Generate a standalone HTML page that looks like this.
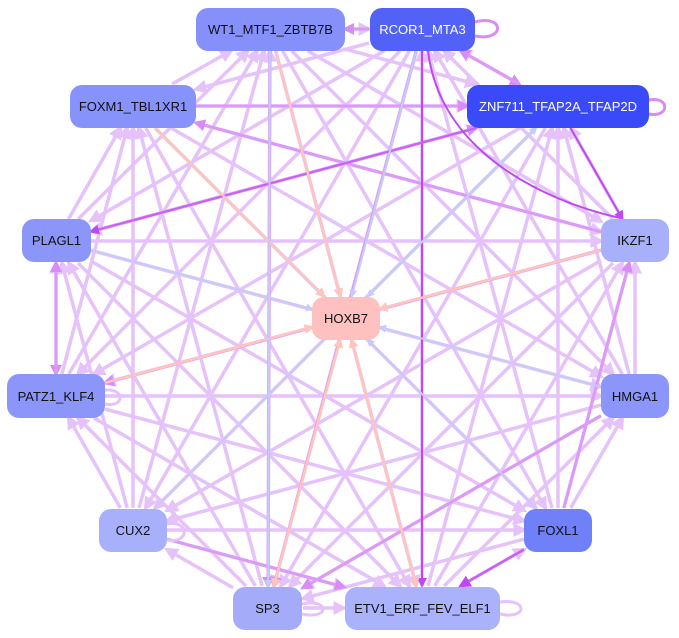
<!DOCTYPE html>
<html><head><meta charset="utf-8">
<style>
body{margin:0;background:#fff;width:679px;height:638px;overflow:hidden;position:relative;font-family:"Liberation Sans",sans-serif}
svg{position:absolute;left:0;top:0}
.n{position:absolute;border-radius:12px;display:flex;align-items:center;justify-content:center;font-size:13px;color:#111;box-sizing:border-box}
</style></head><body>
<svg id="s" width="679" height="638" viewBox="0 0 679 638">
<defs>
<marker id="m1" markerWidth="4" markerHeight="4" refX="3" refY="2" orient="auto" markerUnits="strokeWidth"><path d="M0,0L4,2L0,4z" fill="#e6c2fa"/></marker>
<marker id="m2" markerWidth="4" markerHeight="4" refX="3" refY="2" orient="auto" markerUnits="strokeWidth"><path d="M0,0L4,2L0,4z" fill="#d88cf6"/></marker>
<marker id="m3" markerWidth="5" markerHeight="5" refX="4" refY="2.5" orient="auto" markerUnits="strokeWidth"><path d="M0,0L5,2.5L0,5z" fill="#c048f2"/></marker>
<marker id="m4" markerWidth="4" markerHeight="4" refX="3" refY="2" orient="auto" markerUnits="strokeWidth"><path d="M0,0L4,2L0,4z" fill="#ffc4bc"/></marker>
<marker id="m5" markerWidth="4" markerHeight="4" refX="3" refY="2" orient="auto" markerUnits="strokeWidth"><path d="M0,0L4,2L0,4z" fill="#c4ccf8"/></marker>
</defs>
<g id="e" fill="none"></g>
<path d="M475,22 C505,14 505,42 475,36" stroke="#d88cf6" stroke-width="3" fill="none"/>
<path d="M649,100 C670,96 670,118 649,114" stroke="#d88cf6" stroke-width="3" fill="none"/>
<path d="M105,390 C125,388 125,408 105,404" stroke="#e6c2fa" stroke-width="3" fill="none"/>
<path d="M167,524 C190,520 190,544 167,540" stroke="#e6c2fa" stroke-width="3" fill="none"/>
<path d="M302,604 C330,598 330,620 302,614" stroke="#e6c2fa" stroke-width="3" fill="none"/>
<path d="M500,602 C528,598 528,620 500,614" stroke="#e6c2fa" stroke-width="3" fill="none"/>
<path d="M428,51 C440,150 540,200 620,218" stroke="#c048f2" stroke-width="2" fill="none"/>
</svg>
<div class="n" style="left:196px;top:8px;width:149px;height:43px;background:#8590fb">WT1_MTF1_ZBTB7B</div>
<div class="n" style="left:370px;top:8px;width:105px;height:43px;background:#5262f8;color:#fff">RCOR1_MTA3</div>
<div class="n" style="left:70px;top:85px;width:126px;height:43px;background:#8892fb">FOXM1_TBL1XR1</div>
<div class="n" style="left:467px;top:85px;width:182px;height:43px;background:#3a4af8;color:#fff">ZNF711_TFAP2A_TFAP2D</div>
<div class="n" style="left:22px;top:219px;width:69px;height:43px;background:#8c96fa">PLAGL1</div>
<div class="n" style="left:601px;top:219px;width:68px;height:43px;background:#a8b0fb">IKZF1</div>
<div class="n" style="left:312px;top:297px;width:68px;height:43px;background:#ffc0c0">HOXB7</div>
<div class="n" style="left:7px;top:374px;width:98px;height:44px;background:#8c96fa">PATZ1_KLF4</div>
<div class="n" style="left:601px;top:374px;width:68px;height:44px;background:#8c96fa">HMGA1</div>
<div class="n" style="left:99px;top:509px;width:68px;height:43px;background:#a8b0fb">CUX2</div>
<div class="n" style="left:524px;top:509px;width:68px;height:43px;background:#7080f8">FOXL1</div>
<div class="n" style="left:233px;top:587px;width:69px;height:43px;background:#a4acfa">SP3</div>
<div class="n" style="left:345px;top:587px;width:155px;height:43px;background:#aab2fb">ETV1_ERF_FEV_ELF1</div>
<script>
var N={WT:[270,29,75,22],RC:[422,29,53,22],FO:[133,106,63,22],ZN:[558,106,91,22],PL:[56,241,35,22],IK:[635,241,34,22],HO:[346,318,34,22],PA:[56,396,49,22],HM:[635,396,34,22],CU:[133,530,34,22],FX:[558,530,34,22],SP:[268,608,35,22],ET:[422,608,78,22]};
var P=["WT","RC","FO","ZN","PL","IK","PA","HM","CU","FX","SP","ET"];
function clip(a,b){var dx=b[0]-a[0],dy=b[1]-a[1];var t=Math.min(a[2]/Math.abs(dx||1e-6),a[3]/Math.abs(dy||1e-6));t=Math.min(t,1);return [a[0]+dx*t,a[1]+dy*t];}
var g=document.getElementById('e'),h='';
function L(a,b,c,w,m){var A=N[a],B=N[b];var p=clip(A,B),q=clip(B,A);h+='<line x1="'+p[0]+'" y1="'+p[1]+'" x2="'+q[0]+'" y2="'+q[1]+'" stroke="'+c+'" stroke-width="'+w+'" marker-end="url(#'+m+')"/>';}
for(var i=0;i<P.length;i++)for(var j=i+1;j<P.length;j++){if((i+j)%2)L(P[i],P[j],'#e6c2fa',3.5,'m1');else L(P[j],P[i],'#e6c2fa',3.5,'m1');}
var med=[["RC","WT"],["RC","ZN"],["ZN","RC"],["PL","ZN"],["IK","PA"],["FO","ZN"],["WT","SP"],["RC","SP"],["HM","SP"],["PL","PA"],["PA","PL"],["FX","IK"],["CU","ET"],["IK","FO"]];
med.forEach(function(e){L(e[0],e[1],'#dc9af7',3,'m2');});
L("RC","ET",'#c048f2',2,'m3');L("ZN","IK",'#c048f2',2,'m3');L("FX","ET",'#c860f2',2.5,'m3');L("ZN","PL",'#c860f2',2,'m3');
[["WT","HO"],["FO","HO"],["IK","HO"],["PA","HO"],["ET","HO"],["SP","HO"],["HO","SP"],["HO","ET"]].forEach(function(e){L(e[0],e[1],'#ffc4bc',2.5,'m4');});
[["PL","HO"],["RC","HO"],["ZN","HO"],["HM","HO"],["FX","HO"],["CU","ZN"],["WT","SP"]].forEach(function(e){L(e[0],e[1],'#c4ccf8',2,'m5');});
g.innerHTML=h;
</script>
</body></html>
